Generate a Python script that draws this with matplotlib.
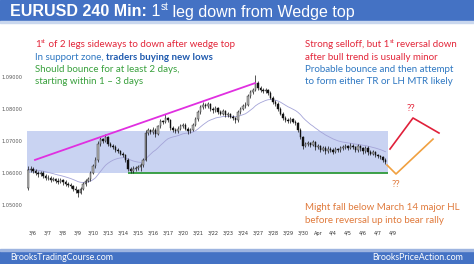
"""EURUSD 240 min chart: first leg down from a wedge top, with annotations."""
import matplotlib

matplotlib.use("Agg")
import matplotlib.pyplot as plt
from matplotlib.patches import Rectangle
import numpy as np
import pandas as pd

# ---- data ------------------------------------------------------------------
opens = [
    1.0552, 1.0610, 1.0612, 1.0605, 1.0598, 1.0595, 1.0600, 1.0590, 1.0585, 1.0583,
    1.0578, 1.0580, 1.0575, 1.0572, 1.0576, 1.0570, 1.0565, 1.0562, 1.0558, 1.0550,
    1.0545, 1.0538, 1.0550, 1.0565, 1.0575, 1.0580, 1.0600, 1.0620, 1.0640, 1.0690,
    1.0705, 1.0700, 1.0712, 1.0690, 1.0685, 1.0680, 1.0672, 1.0668, 1.0660, 1.0655,
    1.0640, 1.0612, 1.0605, 1.0612, 1.0615, 1.0618, 1.0625, 1.0640, 1.0725, 1.0732,
    1.0728, 1.0735, 1.0722, 1.0745, 1.0762, 1.0758, 1.0770, 1.0765, 1.0740, 1.0735,
    1.0730, 1.0738, 1.0745, 1.0750, 1.0738, 1.0730, 1.0735, 1.0750, 1.0768, 1.0790,
    1.0805, 1.0812, 1.0808, 1.0815, 1.0800, 1.0795, 1.0802, 1.0790, 1.0785, 1.0792,
    1.0780, 1.0783, 1.0775, 1.0770, 1.0765, 1.0790, 1.0800, 1.0808, 1.0812, 1.0840,
    1.0852, 1.0860, 1.0880, 1.0865, 1.0860, 1.0855, 1.0858, 1.0850, 1.0835, 1.0820,
    1.0815, 1.0800, 1.0785, 1.0770, 1.0765, 1.0762, 1.0768, 1.0760, 1.0755, 1.0735,
    1.0712, 1.0685, 1.0690, 1.0692, 1.0688, 1.0695, 1.0680, 1.0682, 1.0672, 1.0678,
    1.0668, 1.0675, 1.0672, 1.0666, 1.0674, 1.0670, 1.0676, 1.0680, 1.0684, 1.0678,
    1.0685, 1.0680, 1.0672, 1.0683, 1.0676, 1.0668, 1.0678, 1.0665, 1.0660, 1.0665,
    1.0655, 1.0652, 1.0648, 1.0640,
]
highs = [
    1.0620, 1.0620, 1.0618, 1.0612, 1.0606, 1.0606, 1.0605, 1.0596, 1.0592, 1.0590,
    1.0588, 1.0585, 1.0582, 1.0583, 1.0580, 1.0578, 1.0572, 1.0568, 1.0563, 1.0557,
    1.0550, 1.0556, 1.0570, 1.0580, 1.0588, 1.0606, 1.0626, 1.0648, 1.0698, 1.0712,
    1.0710, 1.0722, 1.0716, 1.0695, 1.0690, 1.0686, 1.0678, 1.0672, 1.0666, 1.0660,
    1.0645, 1.0618, 1.0620, 1.0622, 1.0624, 1.0630, 1.0645, 1.0732, 1.0740, 1.0738,
    1.0742, 1.0740, 1.0750, 1.0768, 1.0766, 1.0782, 1.0775, 1.0768, 1.0745, 1.0740,
    1.0745, 1.0752, 1.0756, 1.0755, 1.0742, 1.0740, 1.0756, 1.0774, 1.0796, 1.0812,
    1.0820, 1.0818, 1.0822, 1.0818, 1.0806, 1.0808, 1.0806, 1.0795, 1.0798, 1.0796,
    1.0790, 1.0788, 1.0780, 1.0774, 1.0795, 1.0806, 1.0814, 1.0820, 1.0846, 1.0860,
    1.0866, 1.0906, 1.0888, 1.0870, 1.0866, 1.0865, 1.0862, 1.0855, 1.0840, 1.0826,
    1.0820, 1.0805, 1.0790, 1.0776, 1.0772, 1.0775, 1.0772, 1.0765, 1.0760, 1.0740,
    1.0716, 1.0697, 1.0698, 1.0697, 1.0702, 1.0698, 1.0690, 1.0686, 1.0685, 1.0682,
    1.0682, 1.0680, 1.0676, 1.0680, 1.0678, 1.0682, 1.0686, 1.0690, 1.0688, 1.0692,
    1.0690, 1.0684, 1.0690, 1.0687, 1.0680, 1.0684, 1.0682, 1.0670, 1.0670, 1.0668,
    1.0660, 1.0656, 1.0652, 1.0645,
]
lows = [
    1.0545, 1.0602, 1.0598, 1.0592, 1.0588, 1.0590, 1.0583, 1.0578, 1.0576, 1.0572,
    1.0573, 1.0568, 1.0566, 1.0568, 1.0563, 1.0558, 1.0555, 1.0552, 1.0543, 1.0538,
    1.0525, 1.0532, 1.0545, 1.0560, 1.0570, 1.0575, 1.0595, 1.0615, 1.0635, 1.0684,
    1.0694, 1.0696, 1.0684, 1.0679, 1.0674, 1.0666, 1.0662, 1.0654, 1.0649, 1.0634,
    1.0605, 1.0599, 1.0600, 1.0606, 1.0610, 1.0605, 1.0618, 1.0636, 1.0718, 1.0720,
    1.0722, 1.0712, 1.0718, 1.0740, 1.0752, 1.0754, 1.0758, 1.0734, 1.0728, 1.0724,
    1.0725, 1.0732, 1.0740, 1.0732, 1.0722, 1.0725, 1.0730, 1.0745, 1.0762, 1.0785,
    1.0800, 1.0802, 1.0803, 1.0794, 1.0788, 1.0790, 1.0784, 1.0779, 1.0780, 1.0774,
    1.0775, 1.0770, 1.0764, 1.0755, 1.0760, 1.0785, 1.0795, 1.0803, 1.0808, 1.0835,
    1.0846, 1.0855, 1.0858, 1.0853, 1.0848, 1.0850, 1.0844, 1.0829, 1.0814, 1.0809,
    1.0794, 1.0779, 1.0764, 1.0758, 1.0755, 1.0756, 1.0754, 1.0748, 1.0728, 1.0705,
    1.0675, 1.0680, 1.0684, 1.0681, 1.0683, 1.0672, 1.0674, 1.0664, 1.0667, 1.0660,
    1.0662, 1.0665, 1.0658, 1.0661, 1.0664, 1.0665, 1.0670, 1.0674, 1.0671, 1.0673,
    1.0673, 1.0664, 1.0666, 1.0669, 1.0660, 1.0662, 1.0656, 1.0654, 1.0655, 1.0648,
    1.0646, 1.0642, 1.0634, 1.0626,
]
closes = [
    1.0610, 1.0612, 1.0605, 1.0598, 1.0595, 1.0600, 1.0590, 1.0585, 1.0583, 1.0578,
    1.0580, 1.0575, 1.0572, 1.0576, 1.0570, 1.0565, 1.0562, 1.0558, 1.0550, 1.0545,
    1.0538, 1.0550, 1.0565, 1.0575, 1.0580, 1.0600, 1.0620, 1.0640, 1.0690, 1.0705,
    1.0700, 1.0712, 1.0690, 1.0685, 1.0680, 1.0672, 1.0668, 1.0660, 1.0655, 1.0640,
    1.0612, 1.0605, 1.0612, 1.0615, 1.0618, 1.0625, 1.0640, 1.0725, 1.0732, 1.0728,
    1.0735, 1.0722, 1.0745, 1.0762, 1.0758, 1.0770, 1.0765, 1.0740, 1.0735, 1.0730,
    1.0738, 1.0745, 1.0750, 1.0738, 1.0730, 1.0735, 1.0750, 1.0768, 1.0790, 1.0805,
    1.0812, 1.0808, 1.0815, 1.0800, 1.0795, 1.0802, 1.0790, 1.0785, 1.0792, 1.0780,
    1.0783, 1.0775, 1.0770, 1.0765, 1.0790, 1.0800, 1.0808, 1.0812, 1.0840, 1.0852,
    1.0860, 1.0880, 1.0865, 1.0860, 1.0855, 1.0858, 1.0850, 1.0835, 1.0820, 1.0815,
    1.0800, 1.0785, 1.0770, 1.0765, 1.0762, 1.0768, 1.0760, 1.0755, 1.0735, 1.0712,
    1.0685, 1.0690, 1.0692, 1.0688, 1.0695, 1.0680, 1.0682, 1.0672, 1.0678, 1.0668,
    1.0675, 1.0672, 1.0666, 1.0674, 1.0670, 1.0676, 1.0680, 1.0684, 1.0678, 1.0685,
    1.0680, 1.0672, 1.0683, 1.0676, 1.0668, 1.0678, 1.0665, 1.0660, 1.0665, 1.0655,
    1.0652, 1.0648, 1.0640, 1.0632,
]

date_labels = ["3/6", "3/7", "3/8", "3/9", "3/10", "3/13", "3/14", "3/15", "3/16",
               "3/17", "3/20", "3/21", "3/22", "3/23", "3/24", "3/27", "3/28",
               "3/29", "3/30", "Apr", "4/4", "4/5", "4/6", "4/7", "4/9"]
price_ticks = [1.05, 1.06, 1.07, 1.08, 1.09]

zone_low, zone_high = 1.0599, 1.0730          # support zone, Mar 14 low
wedge_x, wedge_y = [2.8, 90.8], [1.0640, 1.0880]
red_x, red_y = [144.8, 154.0, 164.4], [1.0674, 1.0771, 1.0724]
orange_x, orange_y = [143.6, 147.2, 162.0], [1.0624, 1.0596, 1.0705]

BLUE_BAR = "#4472C4"
RED = "#E3263A"
BLUE = "#2F78C2"
DARK_BLUE = "#1F5AAE"
GREEN = "#38A03C"
ORANGE = "#E07A3C"
BODY_FONT = ["Lato", "DejaVu Sans"]
HEAD_FONT = ["Liberation Sans", "DejaVu Sans"]

W, H = 474, 264
fig = plt.figure(figsize=(W / 100, H / 100), dpi=100)
fig.patch.set_facecolor("white")
renderer = fig.canvas.get_renderer()


def fx(x):
    return x / W


def fy(y):
    return 1 - y / H


def advance(s, **kw):
    a = fig.text(0, 0, "x" + s + "x", **kw)
    b = fig.text(0, 0, "xx", **kw)
    w = a.get_window_extent(renderer).width - b.get_window_extent(renderer).width
    a.remove()
    b.remove()
    return w


def runs(x, y, parts, size, family):
    # parts: (text, colour, weight, superscript)
    for s, color, weight, sup in parts:
        fs = size * 0.62 if sup else size
        yy = y - size * 0.55 if sup else y
        kw = dict(fontsize=fs, fontweight=weight, family=family)
        fig.text(fx(x), fy(yy), s, color=color, va="baseline", ha="left", **kw)
        x += advance(s, **kw)


# ---- header / footer bars ---------------------------------------------------
fig.patches.append(Rectangle((0, fy(21)), 1, 21 / H, transform=fig.transFigure,
                             color=BLUE_BAR, zorder=0))
fig.patches.append(Rectangle((0, fy(23)), 1, 2 / H, transform=fig.transFigure,
                             color="#C9D7EE", zorder=0))
fig.patches.append(Rectangle((0, 0), 1, 13 / H, transform=fig.transFigure,
                             color=BLUE_BAR, zorder=0))
fig.patches.append(Rectangle((0, fy(251)), 1, 2 / H, transform=fig.transFigure,
                             color="#9DB4E0", zorder=0))

runs(10, 16.5, [("EURUSD 240 Min:", "white", "bold", False),
                (" 1", "white", "normal", False),
                ("st", "white", "normal", True),
                (" leg down from Wedge top", "white", "normal", False)],
     11.5, HEAD_FONT)
fig.text(fx(10), fy(260), "BrooksTradingCourse.com", color="white", fontsize=6.4,
         family=BODY_FONT, va="baseline", ha="left")
fig.text(fx(463), fy(260), "BrooksPriceAction.com", color="white", fontsize=6.4,
         family=BODY_FONT, va="baseline", ha="right")

# ---- price axes ------------------------------------------------------------
ax = fig.add_axes([fx(27), fy(228), (W - 27) / W, (228 - 25) / H])
ax.patch.set_alpha(0)
for sp in ax.spines.values():
    sp.set_visible(False)
ax.set_xlim(-0.4, 178.4)
ax.set_ylim(1.04272, 1.10616)

idx = np.arange(len(closes))
o = np.array(opens)
c = np.array(closes)
ema = pd.Series(closes).ewm(span=20, adjust=False).mean()

ax.add_patch(Rectangle((-0.4, zone_low), 144.4, zone_high - zone_low,
                       facecolor="#C9D3F2", edgecolor="none", zorder=1))
ax.hlines(zone_low, 40, 144, color="#2E9A3A", lw=1.3, zorder=2)
ax.plot(ema.index, ema.values, color="#A4A4D8", lw=0.6, zorder=2)
ax.vlines(idx, lows, highs, color="#111111", lw=0.5, zorder=3)
bull = c >= o
body_lo = np.minimum(o, c)
body_h = np.maximum(np.abs(c - o), 0.00015)
ax.bar(idx[bull], body_h[bull], bottom=body_lo[bull], width=0.7,
       color="#B8B8B8", edgecolor="#222222", lw=0.3, zorder=4)
ax.bar(idx[~bull], body_h[~bull], bottom=body_lo[~bull], width=0.7,
       color="#111111", edgecolor="#111111", lw=0.3, zorder=4)

ax.plot(wedge_x, wedge_y, color="#E02FE0", lw=1.3, zorder=5)
ax.plot(red_x, red_y, color="#E0203A", lw=1.2, zorder=5)
ax.plot(orange_x, orange_y, color="#F0A040", lw=1.2, zorder=5)
ax.text(153.2, 1.0802, "??", color=RED, fontsize=7, family=BODY_FONT,
        ha="center", va="center")
ax.text(147.2, 1.0562, "??", color=ORANGE, fontsize=7, family=BODY_FONT,
        ha="center", va="center")

ax.set_yticks(price_ticks)
ax.set_yticklabels([f"{v:.5f}" for v in price_ticks])
ax.set_xticks(2 + 6 * np.arange(len(date_labels)))
ax.set_xticklabels(date_labels)
ax.tick_params(axis="y", length=0, pad=3, labelsize=3.6, labelcolor="#555555")
ax.tick_params(axis="x", length=0, pad=2, labelsize=3.6, labelcolor="#333333")

# ---- annotation text ---------------------------------------------------------
size = 7
runs(35, 47, [("1", RED, "normal", False), ("st", RED, "normal", True),
              (" of 2 legs sideways to down after wedge top", RED, "normal", False)],
     size, BODY_FONT)
runs(35, 59.5, [("In support zone, ", BLUE, "normal", False),
                ("traders buying new lows", DARK_BLUE, "bold", False)], size, BODY_FONT)
runs(35, 72, [("Should bounce for at least 2 days,", GREEN, "normal", False)],
     size, BODY_FONT)
runs(35, 84.5, [("starting within 1 \u2013 3 days", GREEN, "normal", False)],
     size, BODY_FONT)

runs(305, 47, [("Strong selloff, but 1", RED, "normal", False),
               ("st", RED, "normal", True),
               (" reversal down", RED, "normal", False)], size, BODY_FONT)
runs(305, 59.5, [("after bull trend is usually minor", RED, "normal", False)],
     size, BODY_FONT)
runs(305, 72, [("Probable bounce and then attempt", BLUE, "normal", False)],
     size, BODY_FONT)
runs(305, 84.5, [("to form either TR or LH MTR likely", BLUE, "normal", False)],
     size, BODY_FONT)

runs(305, 210.5, [("Might fall below March 14 major HL", ORANGE, "normal", False)],
     size, BODY_FONT)
runs(305, 223, [("before reversal up into bear rally", ORANGE, "normal", False)],
     size, BODY_FONT)

fig.savefig("out.png", dpi=100, facecolor="white")
